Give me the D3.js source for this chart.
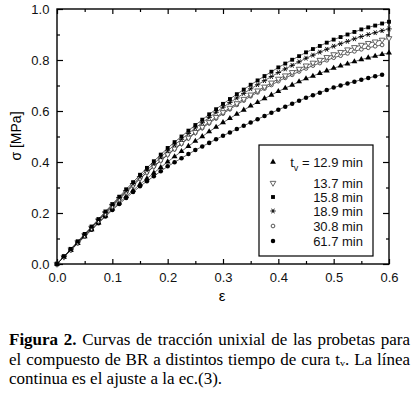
<!DOCTYPE html>
<html>
<head>
<meta charset="utf-8">
<script src="https://cdn.jsdelivr.net/npm/d3@7"></script>
<style>
  body { margin: 0; background: #fff; }
  svg { display: block; }
  .tick text { font-family: "Liberation Sans", Arial, sans-serif; }
</style>
</head>
<body>
<div id="chart"></div>
<script>
// strain values (shared by all series)
var strain = [0, 0.0125, 0.025, 0.0375, 0.05, 0.0625, 0.075, 0.0875, 0.1, 0.1125, 0.125, 0.1375, 0.15,
  0.1625, 0.175, 0.1875, 0.2, 0.2125, 0.225, 0.2375, 0.25, 0.2625, 0.275, 0.2875, 0.3,
  0.3125, 0.325, 0.3375, 0.35, 0.3625, 0.375, 0.3875, 0.4, 0.4125, 0.425, 0.4375, 0.45,
  0.4625, 0.475, 0.4875, 0.5, 0.5125, 0.525, 0.5375, 0.55, 0.5625, 0.575, 0.5875, 0.6];

// stress [MPa], one array per cure time
var s129 = [0, .027, .054, .081, .108, .135, .162, .189, .216, .240, .265, .289, .313,
  .335, .357, .379, .401, .421, .442, .462, .482, .500, .519, .537, .555,
  .571, .588, .604, .620, .634, .649, .663, .677, .690, .702, .715, .727,
  .737, .748, .758, .768, .777, .785, .794, .802, .809, .815, .822, .828];
var s137 = [0, .028, .057, .085, .113, .142, .171, .199, .228, .255, .282, .309, .336,
  .360, .383, .407, .430, .452, .474, .495, .517, .537, .556, .576, .595,
  .612, .630, .647, .664, .680, .695, .711, .726, .739, .752, .765, .778,
  .789, .800, .811, .822, .831, .841, .850, .859, .866, .872, .879, .885];
var s158 = [0, .030, .059, .089, .118, .147, .176, .206, .235, .264, .293, .321, .350,
  .377, .403, .429, .455, .478, .500, .523, .545, .566, .587, .607, .628,
  .647, .666, .684, .703, .720, .737, .754, .771, .786, .801, .815, .830,
  .843, .855, .868, .880, .890, .900, .910, .920, .928, .935, .943, .950];
var s189 = [0, .029, .058, .086, .115, .144, .174, .203, .232, .260, .287, .315, .342,
  .368, .393, .419, .444, .467, .489, .512, .534, .554, .575, .595, .615,
  .633, .651, .669, .687, .703, .719, .735, .751, .765, .779, .793, .807,
  .819, .831, .842, .854, .864, .873, .883, .892, .900, .907, .915, .922];
var s308 = [0, .028, .057, .085, .113, .142, .170, .199, .227, .254, .281, .308, .335,
  .358, .382, .405, .428, .450, .471, .493, .514, .533, .552, .571, .590,
  .607, .624, .641, .658, .673, .688, .702, .717, .730, .742, .755, .767,
  .778, .788, .799, .809, .817, .826, .834, .842, .848, .854, .859];
var s617 = [0, .027, .054, .081, .108, .134, .160, .186, .212, .235, .259, .282, .305,
  .325, .344, .364, .383, .399, .415, .431, .447, .461, .475, .489, .503,
  .516, .529, .542, .555, .568, .580, .593, .605, .617, .628, .640, .652,
  .662, .672, .682, .692, .700, .708, .715, .723, .729, .736, .742];

var seriesNames = ["12.9 min", "13.7 min", "15.8 min", "18.9 min", "30.8 min", "61.7 min"];
var seriesVals = [s129, s137, s158, s189, s308, s617];
var xTicks = [0, 0.1, 0.2, 0.3, 0.4, 0.5, 0.6];
var yTicks = [0, 0.2, 0.4, 0.6, 0.8, 1.0];

var W = 412, H = 396;
var x0 = 57, x1 = 389, yTop = 9, yBot = 264;

var svg = d3.select("#chart").append("svg")
    .attr("width", W)
    .attr("height", H)

var x = d3.scaleLinear().domain([0, 0.6]).range([x0, x1]);
var y = d3.scaleLinear().domain([0, 1.0]).range([yBot, yTop]);

// marker styles per series
var markers = [
  { type: d3.symbolTriangle, size: 15, fill: "#000", stroke: "none", rot: 0 },
  { type: d3.symbolTriangle, size: 14, fill: "#fff", stroke: "#555", rot: 180 },
  { type: d3.symbolSquare, size: 15, fill: "#000", stroke: "none", rot: 0 },
  { type: d3.symbolAsterisk, size: 20, fill: "none", stroke: "#000", rot: 90 },
  { type: d3.symbolCircle, size: 11, fill: "#fff", stroke: "#444", rot: 0 },
  { type: d3.symbolCircle, size: 16, fill: "#000", stroke: "none", rot: 0 }
];

// axes, ticks pointing inward
var fontAx = '"Liberation Sans", Arial, sans-serif';
svg.append("g")
    .attr("transform", "translate(0," + yBot + ")")
    .call(d3.axisBottom(x).tickValues(xTicks).tickSize(-5).tickPadding(9).tickFormat(d3.format(".1f")));
svg.append("g")
    .attr("transform", "translate(0," + yBot + ")")
    .call(d3.axisBottom(x).tickValues(d3.range(0.05, 0.6, 0.1)).tickSize(-3).tickFormat(""));
svg.append("g")
    .attr("transform", "translate(0," + yTop + ")")
    .call(d3.axisTop(x).tickValues(xTicks).tickSize(-5).tickFormat(""));
svg.append("g")
    .attr("transform", "translate(0," + yTop + ")")
    .call(d3.axisTop(x).tickValues(d3.range(0.05, 0.6, 0.1)).tickSize(-3).tickFormat(""));
var left = svg.append("g")
    .attr("transform", "translate(" + x0 + ",0)")
    .call(d3.axisLeft(y).tickValues(yTicks).tickSize(-6).tickPadding(5).tickFormat(d3.format(".1f")));
svg.append("g")
    .attr("transform", "translate(" + x0 + ",0)")
    .call(d3.axisLeft(y).tickValues([0.1, 0.3, 0.5, 0.7, 0.9]).tickSize(-3).tickFormat(""));
svg.append("g")
    .attr("transform", "translate(" + x1 + ",0)")
    .call(d3.axisRight(y).tickValues(yTicks).tickSize(-6).tickFormat(""));
svg.append("g")
    .attr("transform", "translate(" + x1 + ",0)")
    .call(d3.axisRight(y).tickValues([0.1, 0.3, 0.5, 0.7, 0.9]).tickSize(-3).tickFormat(""));

svg.selectAll(".domain").remove();
svg.selectAll(".tick line").attr("stroke", "#000").attr("stroke-width", 1.2);
svg.selectAll(".tick text")
    .attr("fill", "#111")
    .style("font-family", fontAx)
    .style("font-size", "13px");
left.selectAll(".tick text").attr("dx", "-0.2em");

svg.append("rect")
    .attr("x", x0)
    .attr("y", yTop)
    .attr("width", x1 - x0)
    .attr("height", yBot - yTop)
    .attr("fill", "none")
    .attr("stroke", "#000")
    .attr("stroke-width", 1.4)

// fitted lines
var line = d3.line()
    .x(function(d) { return x(d[0]); })
    .y(function(d) { return y(d[1]); })
    .curve(d3.curveBasis);

var plot = svg.append("g");
seriesVals.forEach(function(vals) {
  var pts = vals.map(function(v, i) { return [strain[i], v]; });
  plot.append("path")
      .attr("d", line(pts))
      .attr("fill", "none")
      .attr("stroke", "#222")
      .attr("stroke-width", 0.7);
});

// markers, lowest series drawn first
[5, 0, 4, 1, 3, 2].forEach(function(k) {
  var m = markers[k];
  var sym = d3.symbol().type(m.type).size(m.size);
  plot.append("g").selectAll("path")
    .data(seriesVals[k])
    .join("path")
      .attr("d", sym)
      .attr("transform", function(v, i) {
        return "translate(" + x(strain[i]) + "," + y(v) + ") rotate(" + m.rot + ")";
      })
      .attr("fill", m.fill)
      .attr("stroke", m.stroke)
      .attr("stroke-width", 0.9);
});

// legend
var leg = svg.append("g");
leg.append("rect")
    .attr("x", 259)
    .attr("y", 145)
    .attr("width", 114)
    .attr("height", 111)
    .attr("fill", "#fff")
    .attr("stroke", "#000")
    .attr("stroke-width", 1.2)
var rowY = [162, 183, 197, 211, 226, 241];
seriesNames.forEach(function(name, k) {
  var m = markers[k];
  leg.append("path")
      .attr("d", d3.symbol().type(m.type).size(m.size)())
      .attr("transform", "translate(273," + rowY[k] + ") rotate(" + m.rot + ")")
      .attr("fill", m.fill)
      .attr("stroke", m.stroke)
      .attr("stroke-width", 0.9);
  var t = leg.append("text")
      .attr("x", 363)
      .attr("y", rowY[k] + 4.5)
      .attr("text-anchor", "end")
      .style("font-family", fontAx)
      .style("font-size", "13px")
      .attr("fill", "#111");
  if (k === 0) {
    t.append("tspan").text("t");
    t.append("tspan").attr("dy", 4).style("font-size", "9px").text("v");
    t.append("tspan").attr("dy", -4).text(" = " + name);
  } else {
    t.text(name);
  }
});

// axis titles
svg.append("text")
    .attr("x", 222)
    .attr("y", 301)
    .attr("text-anchor", "middle")
    .style("font-family", fontAx)
    .style("font-size", "15px")
    .text("ε");
svg.append("text")
    .attr("transform", "translate(21,136) rotate(-90)")
    .attr("text-anchor", "middle")
    .style("font-family", fontAx)
    .style("font-size", "14px")
    .text("σ [MPa]");

// caption, justified lines
var capFont = '"Liberation Serif", "Times New Roman", serif';
var capLines = [
  { words: [["Figura", true], ["2.", true], ["Curvas"], ["de"], ["tracción"], ["unixial"], ["de"], ["las"], ["probetas"], ["para"]], y: 345, just: true },
  { words: [["el"], ["compuesto"], ["de"], ["BR"], ["a"], ["distintos"], ["tiempo"], ["de"], ["cura"], ["tᵥ."], ["La"], ["línea"]], y: 365, just: true },
  { words: [["continua"], ["es"], ["el"], ["ajuste"], ["a"], ["la"], ["ec.(3)."]], y: 384, just: false }
];
var capL = 9, capR = 410;
capLines.forEach(function(ln) {
  var nodes = ln.words.map(function(w) {
    return svg.append("text")
        .attr("y", ln.y)
        .style("font-family", capFont)
        .style("font-size", "17px")
        .style("font-weight", w[1] ? "bold" : "normal")
        .attr("fill", "#000")
        .text(w[0]);
  });
  var widths = nodes.map(function(n) { return n.node().getComputedTextLength(); });
  var total = d3.sum(widths);
  var gap = ln.just ? (capR - capL - total) / (nodes.length - 1) : 4.2;
  var cx = capL;
  nodes.forEach(function(n, i) {
    n.attr("x", cx);
    cx += widths[i] + gap;
  });
});
</script>
</body>
</html>
